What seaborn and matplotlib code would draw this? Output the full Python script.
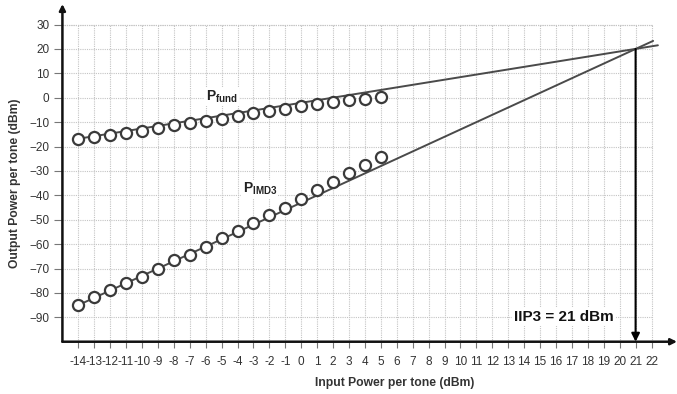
import matplotlib
matplotlib.use("Agg")
import matplotlib.pyplot as plt
import seaborn as sns
import pandas as pd

# Measured data (input power per tone, dBm)
pin = list(range(-14, 6))
p_fund = [-17, -16, -15.2, -14.3, -13.5, -12.2, -11.3, -10.4, -9.4, -8.6,
          -7.5, -6.2, -5.5, -4.6, -3.5, -2.4, -1.6, -0.9, -0.5, 0.5]
p_imd3 = [-85, -81.5, -78.7, -75.9, -73.6, -70.3, -66.5, -64.3, -61, -57.6,
          -54.5, -51.5, -48.2, -45.3, -41.4, -37.8, -34.4, -31, -27.6, -24.2]

# Extrapolated lines (endpoints)
fund_line_x = [-14, 22.4]
fund_line_y = [-16.8, 21.5]
imd3_line_x = [-14, 22.1]
imd3_line_y = [-85, 23.3]

iip3 = 21
oip3 = 20

xticks = list(range(-14, 23))
yticks = list(range(-90, 31, 10))

sns.set_theme(style="white")
plt.rcParams['font.family'] = ['Liberation Sans', 'DejaVu Sans']
plt.rcParams['mathtext.fontset'] = 'custom'
plt.rcParams['mathtext.rm'] = 'Liberation Sans'
plt.rcParams['mathtext.bf'] = 'Liberation Sans:bold'

df = pd.DataFrame({'pin': pin, 'fund': p_fund, 'imd3': p_imd3})

fig = plt.figure(figsize=(6.77, 3.94), dpi=100)
ax = fig.add_axes([0.0922, 0.1327, 0.9078, 0.857])
ax.set_xlim(-15, 23.6)
ax.set_ylim(-100, 38.4)

# grid (limited extent, dotted)
ax.vlines(xticks, -100, 30, colors='#c4c4c4', linestyles=(0, (1, 1)), lw=0.8, zorder=0)
ax.hlines(yticks + [30], -15, 22, colors='#c4c4c4', linestyles=(0, (1, 1)), lw=0.8, zorder=0)

# extrapolated lines
sns.lineplot(x=fund_line_x, y=fund_line_y, color='#4a4a4a', lw=1.4, ax=ax, zorder=2)
sns.lineplot(x=imd3_line_x, y=imd3_line_y, color='#4a4a4a', lw=1.4, ax=ax, zorder=2)

# measured points
for col in ['fund', 'imd3']:
    sns.scatterplot(data=df, x='pin', y=col, marker='o', s=64, facecolor='white',
                    edgecolor='#3a3a3a', linewidth=1.6, ax=ax, zorder=3)

# axes with arrows
for s in ax.spines.values():
    s.set_visible(False)
ax.annotate('', xy=(1, 0), xytext=(0, 0), xycoords='axes fraction',
            arrowprops=dict(arrowstyle='-|>', color='#111111', lw=1.8,
                            mutation_scale=9, shrinkA=0, shrinkB=0))
ax.annotate('', xy=(0, 1), xytext=(0, 0), xycoords='axes fraction',
            arrowprops=dict(arrowstyle='-|>', color='#111111', lw=1.8,
                            mutation_scale=9, shrinkA=0, shrinkB=0))

# IIP3 marker arrow
ax.annotate('', xy=(iip3, -100), xytext=(iip3, oip3),
            arrowprops=dict(arrowstyle='-|>', color='black', lw=1.5,
                            mutation_scale=12, shrinkA=0, shrinkB=0))

ax.text(16.5, -90, 'IIP3 = 21 dBm', fontsize=11, fontweight='bold', color='#111111',
        ha='center', va='center',
        bbox=dict(facecolor='white', edgecolor='none', pad=1.5), zorder=4)
ax.text(-5, 0.5, r'$\mathbf{P_{fund}}$', fontsize=10, color='#222222', ha='center', va='center',
        bbox=dict(facecolor='white', edgecolor='none', pad=1), zorder=4)
ax.text(-2.6, -37.5, r'$\mathbf{P_{IMD3}}$', fontsize=10, color='#222222', ha='center', va='center',
        bbox=dict(facecolor='white', edgecolor='none', pad=1), zorder=4)

ax.set_xticks(xticks)
ax.set_xticklabels([str(t) for t in xticks])
ax.set_yticks(yticks)
ax.tick_params(axis='x', length=4.5, width=0.8, color='#777777', pad=6,
               labelsize=8.5, labelcolor='#333333', bottom=True, direction='out')
ax.tick_params(axis='y', length=5.5, width=0.8, color='#777777', pad=4,
               labelsize=8.5, labelcolor='#333333', left=True, direction='out')

ax.set_xlabel('Input Power per tone (dBm)', fontsize=8.7, fontweight='bold', color='#333333')
ax.set_ylabel('Output Power per tone (dBm)', fontsize=8.7, fontweight='bold', color='#333333')
ax.xaxis.set_label_coords(0.541, -0.105)
ax.yaxis.set_label_coords(-0.068, 0.47)

fig.savefig('out.png', dpi=100)
